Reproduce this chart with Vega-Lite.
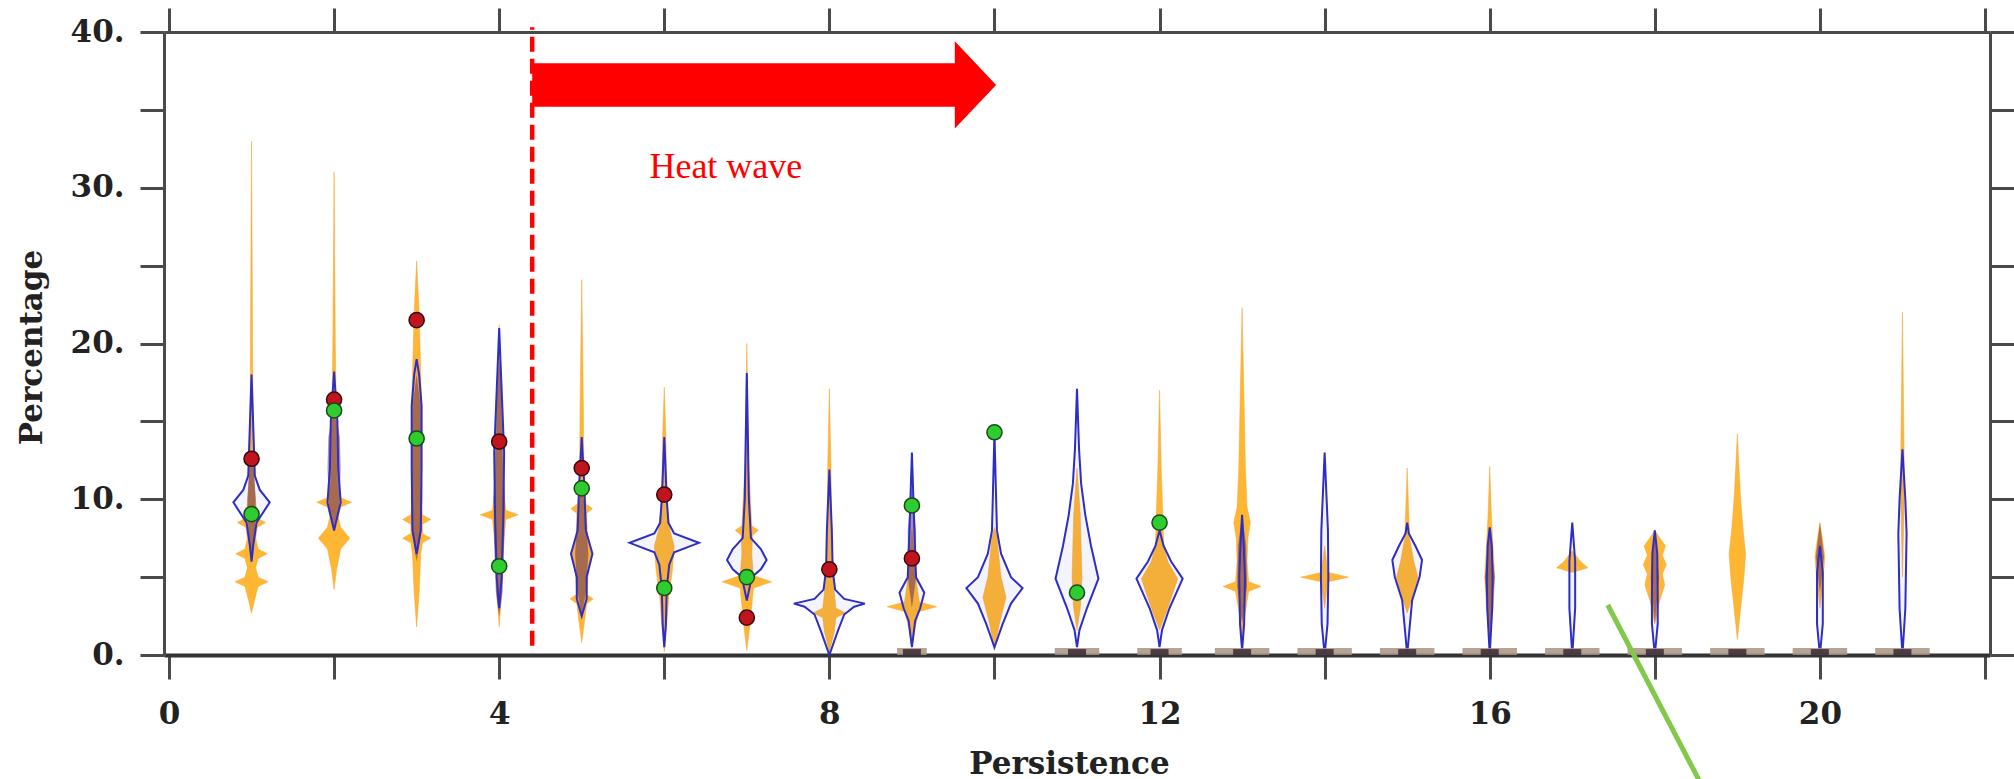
{
  "$schema": "https://vega.github.io/schema/vega-lite/v6.json",
  "width": 1826,
  "height": 623,
  "autosize": {"type": "none"},
  "padding": {"left": 164, "top": 32, "right": 24, "bottom": 124},
  "background": "#ffffff",
  "config": {
    "view": {"stroke": null, "fill": "#ffffff"},
    "axis": {
      "grid": false,
      "labelFont": "DejaVu Serif",
      "labelFontWeight": "bold",
      "labelFontSize": 31,
      "labelColor": "#222222",
      "titleFont": "DejaVu Serif",
      "titleFontWeight": "bold",
      "titleFontSize": 31,
      "titleColor": "#222222",
      "tickColor": "#4a4a4a",
      "tickWidth": 3,
      "tickSize": 24,
      "domainColor": "#4a4a4a",
      "domainWidth": 3,
      "labelFlush": false,
      "labelOverlap": false
    }
  },
  "datasets": {
    "orange": [
      {"p":1,"v":2.7,"lo":1,"hi":1},{"p":1,"v":3.6,"lo":0.96,"hi":1.04},{"p":1,"v":4.4,"lo":0.92,"hi":1.08},{"p":1,"v":4.7,"lo":0.8,"hi":1.2},{"p":1,"v":5.0,"lo":0.92,"hi":1.08},{"p":1,"v":5.6,"lo":0.95,"hi":1.05},{"p":1,"v":6.2,"lo":0.92,"hi":1.08},{"p":1,"v":6.5,"lo":0.81,"hi":1.19},{"p":1,"v":6.8,"lo":0.92,"hi":1.08},{"p":1,"v":7.5,"lo":0.95,"hi":1.05},{"p":1,"v":8.2,"lo":0.93,"hi":1.07},{"p":1,"v":8.5,"lo":0.83,"hi":1.17},{"p":1,"v":8.8,"lo":0.93,"hi":1.07},{"p":1,"v":9.8,"lo":0.95,"hi":1.05},{"p":1,"v":11,"lo":0.97,"hi":1.03},{"p":1,"v":14,"lo":0.98,"hi":1.02},{"p":1,"v":18,"lo":0.985,"hi":1.015},{"p":1,"v":33,"lo":1,"hi":1},
      {"p":2,"v":4.2,"lo":2,"hi":2},{"p":2,"v":5.5,"lo":1.97,"hi":2.03},{"p":2,"v":6.8,"lo":1.92,"hi":2.08},{"p":2,"v":7.5,"lo":1.81,"hi":2.19},{"p":2,"v":8.2,"lo":1.92,"hi":2.08},{"p":2,"v":8.9,"lo":1.95,"hi":2.05},{"p":2,"v":9.5,"lo":1.92,"hi":2.08},{"p":2,"v":9.8,"lo":1.79,"hi":2.21},{"p":2,"v":10.1,"lo":1.92,"hi":2.08},{"p":2,"v":11,"lo":1.96,"hi":2.04},{"p":2,"v":13,"lo":1.97,"hi":2.03},{"p":2,"v":16,"lo":1.975,"hi":2.025},{"p":2,"v":20,"lo":1.985,"hi":2.015},{"p":2,"v":31,"lo":2,"hi":2},
      {"p":3,"v":1.8,"lo":3,"hi":3},{"p":3,"v":4,"lo":2.97,"hi":3.03},{"p":3,"v":6.5,"lo":2.95,"hi":3.05},{"p":3,"v":7.2,"lo":2.93,"hi":3.07},{"p":3,"v":7.5,"lo":2.83,"hi":3.17},{"p":3,"v":7.8,"lo":2.93,"hi":3.07},{"p":3,"v":8.4,"lo":2.93,"hi":3.07},{"p":3,"v":8.7,"lo":2.83,"hi":3.17},{"p":3,"v":9.0,"lo":2.93,"hi":3.07},{"p":3,"v":10,"lo":2.95,"hi":3.05},{"p":3,"v":13,"lo":2.95,"hi":3.05},{"p":3,"v":16,"lo":2.94,"hi":3.06},{"p":3,"v":18,"lo":2.95,"hi":3.05},{"p":3,"v":22,"lo":2.97,"hi":3.03},{"p":3,"v":25.3,"lo":3,"hi":3},
      {"p":4,"v":1.8,"lo":4,"hi":4},{"p":4,"v":4,"lo":3.97,"hi":4.03},{"p":4,"v":7,"lo":3.95,"hi":4.05},{"p":4,"v":8.7,"lo":3.92,"hi":4.08},{"p":4,"v":9.0,"lo":3.77,"hi":4.23},{"p":4,"v":9.3,"lo":3.92,"hi":4.08},{"p":4,"v":11,"lo":3.95,"hi":4.05},{"p":4,"v":14,"lo":3.97,"hi":4.03},{"p":4,"v":18,"lo":3.985,"hi":4.015},{"p":4,"v":21.2,"lo":4,"hi":4},
      {"p":5,"v":0.8,"lo":5,"hi":5},{"p":5,"v":2,"lo":4.97,"hi":5.03},{"p":5,"v":3.3,"lo":4.94,"hi":5.06},{"p":5,"v":3.6,"lo":4.86,"hi":5.14},{"p":5,"v":3.9,"lo":4.94,"hi":5.06},{"p":5,"v":5.5,"lo":4.92,"hi":5.08},{"p":5,"v":6.5,"lo":4.88,"hi":5.12},{"p":5,"v":7.5,"lo":4.93,"hi":5.07},{"p":5,"v":9.1,"lo":4.94,"hi":5.06},{"p":5,"v":9.4,"lo":4.87,"hi":5.13},{"p":5,"v":9.7,"lo":4.95,"hi":5.05},{"p":5,"v":12,"lo":4.975,"hi":5.025},{"p":5,"v":16,"lo":4.98,"hi":5.02},{"p":5,"v":24.1,"lo":5,"hi":5},
      {"p":6,"v":0.2,"lo":6,"hi":6},{"p":6,"v":2,"lo":5.97,"hi":6.03},{"p":6,"v":4,"lo":5.94,"hi":6.06},{"p":6,"v":5.5,"lo":5.9,"hi":6.1},{"p":6,"v":7,"lo":5.88,"hi":6.12},{"p":6,"v":8,"lo":5.93,"hi":6.07},{"p":6,"v":9,"lo":5.95,"hi":6.05},{"p":6,"v":10.5,"lo":5.97,"hi":6.03},{"p":6,"v":14,"lo":5.98,"hi":6.02},{"p":6,"v":17.2,"lo":6,"hi":6},
      {"p":7,"v":0.3,"lo":7,"hi":7},{"p":7,"v":2,"lo":6.96,"hi":7.04},{"p":7,"v":4.3,"lo":6.92,"hi":7.08},{"p":7,"v":4.7,"lo":6.7,"hi":7.3},{"p":7,"v":5.1,"lo":6.92,"hi":7.08},{"p":7,"v":6.5,"lo":6.94,"hi":7.06},{"p":7,"v":7.7,"lo":6.93,"hi":7.07},{"p":7,"v":8.0,"lo":6.86,"hi":7.14},{"p":7,"v":8.3,"lo":6.94,"hi":7.06},{"p":7,"v":12,"lo":6.975,"hi":7.025},{"p":7,"v":20,"lo":7,"hi":7},
      {"p":8,"v":0.2,"lo":8,"hi":8},{"p":8,"v":1.5,"lo":7.94,"hi":8.06},{"p":8,"v":2.4,"lo":7.92,"hi":8.08},{"p":8,"v":2.7,"lo":7.8,"hi":8.2},{"p":8,"v":3.0,"lo":7.92,"hi":8.08},{"p":8,"v":4.5,"lo":7.95,"hi":8.05},{"p":8,"v":6,"lo":7.97,"hi":8.03},{"p":8,"v":12,"lo":7.98,"hi":8.02},{"p":8,"v":17.1,"lo":8,"hi":8},
      {"p":9,"v":0.5,"lo":9,"hi":9},{"p":9,"v":2,"lo":8.95,"hi":9.05},{"p":9,"v":2.8,"lo":8.91,"hi":9.09},{"p":9,"v":3.1,"lo":8.7,"hi":9.3},{"p":9,"v":3.4,"lo":8.91,"hi":9.09},{"p":9,"v":4.5,"lo":8.94,"hi":9.06},{"p":9,"v":6,"lo":8.97,"hi":9.03},{"p":9,"v":8,"lo":9,"hi":9},
      {"p":10,"v":0.3,"lo":10,"hi":10},{"p":10,"v":2,"lo":9.94,"hi":10.06},{"p":10,"v":3.7,"lo":9.86,"hi":10.14},{"p":10,"v":5,"lo":9.92,"hi":10.08},{"p":10,"v":6.5,"lo":9.95,"hi":10.05},{"p":10,"v":7.6,"lo":9.97,"hi":10.03},{"p":10,"v":8.2,"lo":10,"hi":10},
      {"p":11,"v":1.6,"lo":11,"hi":11},{"p":11,"v":3,"lo":10.96,"hi":11.04},{"p":11,"v":5,"lo":10.94,"hi":11.06},{"p":11,"v":7,"lo":10.95,"hi":11.05},{"p":11,"v":9,"lo":10.96,"hi":11.04},{"p":11,"v":10.6,"lo":10.98,"hi":11.02},{"p":11,"v":12,"lo":11,"hi":11},
      {"p":12,"v":1.6,"lo":12,"hi":12},{"p":12,"v":3,"lo":11.9,"hi":12.1},{"p":12,"v":4.9,"lo":11.78,"hi":12.22},{"p":12,"v":6,"lo":11.9,"hi":12.1},{"p":12,"v":7,"lo":11.95,"hi":12.05},{"p":12,"v":9,"lo":11.96,"hi":12.04},{"p":12,"v":12,"lo":11.98,"hi":12.02},{"p":12,"v":17,"lo":12,"hi":12},
      {"p":13,"v":0.5,"lo":13,"hi":13},{"p":13,"v":2.5,"lo":12.97,"hi":13.03},{"p":13,"v":4.1,"lo":12.92,"hi":13.08},{"p":13,"v":4.4,"lo":12.77,"hi":13.23},{"p":13,"v":4.7,"lo":12.92,"hi":13.08},{"p":13,"v":6,"lo":12.94,"hi":13.06},{"p":13,"v":7.5,"lo":12.93,"hi":13.07},{"p":13,"v":8.5,"lo":12.9,"hi":13.1},{"p":13,"v":9.5,"lo":12.94,"hi":13.06},{"p":13,"v":12,"lo":12.96,"hi":13.04},{"p":13,"v":16,"lo":12.975,"hi":13.025},{"p":13,"v":22.3,"lo":13,"hi":13},
      {"p":14,"v":3,"lo":14,"hi":14},{"p":14,"v":4.7,"lo":13.96,"hi":14.04},{"p":14,"v":5.0,"lo":13.71,"hi":14.29},{"p":14,"v":5.3,"lo":13.96,"hi":14.04},{"p":14,"v":7,"lo":14,"hi":14},
      {"p":15,"v":2.7,"lo":15,"hi":15},{"p":15,"v":4,"lo":14.92,"hi":15.08},{"p":15,"v":5.0,"lo":14.87,"hi":15.13},{"p":15,"v":6,"lo":14.92,"hi":15.08},{"p":15,"v":7.5,"lo":14.97,"hi":15.03},{"p":15,"v":9,"lo":14.98,"hi":15.02},{"p":15,"v":12,"lo":15,"hi":15},
      {"p":16,"v":1,"lo":16,"hi":16},{"p":16,"v":3,"lo":15.96,"hi":16.04},{"p":16,"v":5,"lo":15.94,"hi":16.06},{"p":16,"v":7,"lo":15.96,"hi":16.04},{"p":16,"v":9,"lo":15.98,"hi":16.02},{"p":16,"v":12.1,"lo":16,"hi":16},
      {"p":17,"v":5.3,"lo":17,"hi":17},{"p":17,"v":5.6,"lo":16.81,"hi":17.19},{"p":17,"v":6,"lo":16.9,"hi":17.1},{"p":17,"v":6.7,"lo":17,"hi":17},
      {"p":18,"v":2,"lo":18,"hi":18},{"p":18,"v":3.5,"lo":17.94,"hi":18.06},{"p":18,"v":4.5,"lo":17.88,"hi":18.12},{"p":18,"v":5.2,"lo":17.91,"hi":18.09},{"p":18,"v":5.8,"lo":17.86,"hi":18.14},{"p":18,"v":6.4,"lo":17.91,"hi":18.09},{"p":18,"v":7,"lo":17.87,"hi":18.13},{"p":18,"v":7.6,"lo":17.95,"hi":18.05},{"p":18,"v":8,"lo":18,"hi":18},
      {"p":19,"v":1,"lo":19,"hi":19},{"p":19,"v":3,"lo":18.96,"hi":19.04},{"p":19,"v":5,"lo":18.92,"hi":19.08},{"p":19,"v":6.5,"lo":18.9,"hi":19.1},{"p":19,"v":8,"lo":18.93,"hi":19.07},{"p":19,"v":10,"lo":18.96,"hi":19.04},{"p":19,"v":12,"lo":18.98,"hi":19.02},{"p":19,"v":14.2,"lo":19,"hi":19},
      {"p":20,"v":3,"lo":20,"hi":20},{"p":20,"v":5,"lo":19.96,"hi":20.04},{"p":20,"v":6.3,"lo":19.94,"hi":20.06},{"p":20,"v":7.5,"lo":19.97,"hi":20.03},{"p":20,"v":8.5,"lo":20,"hi":20},
      {"p":21,"v":5,"lo":21,"hi":21},{"p":21,"v":10,"lo":20.98,"hi":21.02},{"p":21,"v":13,"lo":20.98,"hi":21.02},{"p":21,"v":22,"lo":21,"hi":21}
    ],
    "blue": [
      {"p":1,"v":6.0,"lo":1,"hi":1},{"p":1,"v":7,"lo":0.98,"hi":1.02},{"p":1,"v":8.5,"lo":0.94,"hi":1.06},{"p":1,"v":9.8,"lo":0.78,"hi":1.22},{"p":1,"v":10.6,"lo":0.9,"hi":1.1},{"p":1,"v":11.5,"lo":0.96,"hi":1.04},{"p":1,"v":14,"lo":0.975,"hi":1.025},{"p":1,"v":18,"lo":1,"hi":1},
      {"p":2,"v":8.0,"lo":2,"hi":2},{"p":2,"v":9.8,"lo":1.92,"hi":2.08},{"p":2,"v":12,"lo":1.95,"hi":2.05},{"p":2,"v":15,"lo":1.96,"hi":2.04},{"p":2,"v":18.2,"lo":2,"hi":2},
      {"p":3,"v":6.5,"lo":3,"hi":3},{"p":3,"v":8,"lo":2.95,"hi":3.05},{"p":3,"v":12,"lo":2.94,"hi":3.06},{"p":3,"v":16,"lo":2.94,"hi":3.06},{"p":3,"v":18,"lo":2.97,"hi":3.03},{"p":3,"v":19,"lo":3,"hi":3},
      {"p":4,"v":3,"lo":4,"hi":4},{"p":4,"v":5,"lo":3.97,"hi":4.03},{"p":4,"v":9,"lo":3.95,"hi":4.05},{"p":4,"v":13,"lo":3.94,"hi":4.06},{"p":4,"v":17,"lo":3.97,"hi":4.03},{"p":4,"v":21,"lo":4,"hi":4},
      {"p":5,"v":2.5,"lo":5,"hi":5},{"p":5,"v":3.6,"lo":4.94,"hi":5.06},{"p":5,"v":5,"lo":4.94,"hi":5.06},{"p":5,"v":6.5,"lo":4.87,"hi":5.13},{"p":5,"v":8,"lo":4.95,"hi":5.05},{"p":5,"v":11,"lo":4.97,"hi":5.03},{"p":5,"v":14,"lo":5,"hi":5},
      {"p":6,"v":0.5,"lo":6,"hi":6},{"p":6,"v":2,"lo":5.98,"hi":6.02},{"p":6,"v":4.3,"lo":5.97,"hi":6.03},{"p":6,"v":5.8,"lo":5.94,"hi":6.06},{"p":6,"v":6.6,"lo":5.88,"hi":6.12},{"p":6,"v":7.2,"lo":5.58,"hi":6.42},{"p":6,"v":7.8,"lo":5.88,"hi":6.12},{"p":6,"v":8.5,"lo":5.95,"hi":6.05},{"p":6,"v":10,"lo":5.97,"hi":6.03},{"p":6,"v":14,"lo":6,"hi":6},
      {"p":7,"v":3.5,"lo":7,"hi":7},{"p":7,"v":5.0,"lo":6.94,"hi":7.06},{"p":7,"v":5.5,"lo":6.83,"hi":7.17},{"p":7,"v":6.1,"lo":6.76,"hi":7.24},{"p":7,"v":6.8,"lo":6.83,"hi":7.17},{"p":7,"v":7.5,"lo":6.95,"hi":7.05},{"p":7,"v":10,"lo":6.975,"hi":7.025},{"p":7,"v":18.1,"lo":7,"hi":7},
      {"p":8,"v":0,"lo":8,"hi":8},{"p":8,"v":1.5,"lo":7.9,"hi":8.1},{"p":8,"v":2.6,"lo":7.82,"hi":8.18},{"p":8,"v":3.1,"lo":7.7,"hi":8.3},{"p":8,"v":3.3,"lo":7.57,"hi":8.43},{"p":8,"v":3.6,"lo":7.82,"hi":8.18},{"p":8,"v":4.2,"lo":7.93,"hi":8.07},{"p":8,"v":5.5,"lo":7.96,"hi":8.04},{"p":8,"v":8,"lo":7.97,"hi":8.03},{"p":8,"v":11.9,"lo":8,"hi":8},
      {"p":9,"v":0.5,"lo":9,"hi":9},{"p":9,"v":2.2,"lo":8.96,"hi":9.04},{"p":9,"v":3,"lo":8.9,"hi":9.1},{"p":9,"v":4,"lo":8.85,"hi":9.15},{"p":9,"v":5,"lo":8.95,"hi":9.05},{"p":9,"v":8,"lo":8.97,"hi":9.03},{"p":9,"v":13,"lo":9,"hi":9},
      {"p":10,"v":0.5,"lo":10,"hi":10},{"p":10,"v":2,"lo":9.9,"hi":10.1},{"p":10,"v":3.3,"lo":9.8,"hi":10.2},{"p":10,"v":4.3,"lo":9.66,"hi":10.34},{"p":10,"v":5,"lo":9.8,"hi":10.2},{"p":10,"v":6.5,"lo":9.92,"hi":10.08},{"p":10,"v":8,"lo":9.97,"hi":10.03},{"p":10,"v":14.3,"lo":10,"hi":10},
      {"p":11,"v":0.5,"lo":11,"hi":11},{"p":11,"v":1.6,"lo":10.97,"hi":11.03},{"p":11,"v":3,"lo":10.88,"hi":11.12},{"p":11,"v":4.9,"lo":10.74,"hi":11.26},{"p":11,"v":7,"lo":10.83,"hi":11.17},{"p":11,"v":9,"lo":10.9,"hi":11.1},{"p":11,"v":11,"lo":10.95,"hi":11.05},{"p":11,"v":13.2,"lo":10.975,"hi":11.025},{"p":11,"v":17.1,"lo":11,"hi":11},
      {"p":12,"v":0.5,"lo":12,"hi":12},{"p":12,"v":1.6,"lo":11.97,"hi":12.03},{"p":12,"v":3,"lo":11.88,"hi":12.12},{"p":12,"v":4.9,"lo":11.72,"hi":12.28},{"p":12,"v":6,"lo":11.86,"hi":12.14},{"p":12,"v":7,"lo":11.95,"hi":12.05},{"p":12,"v":8,"lo":12,"hi":12},
      {"p":13,"v":0.3,"lo":13,"hi":13},{"p":13,"v":2,"lo":12.975,"hi":13.025},{"p":13,"v":5,"lo":12.965,"hi":13.035},{"p":13,"v":7,"lo":12.98,"hi":13.02},{"p":13,"v":9,"lo":13,"hi":13},
      {"p":14,"v":0,"lo":14,"hi":14},{"p":14,"v":2,"lo":13.965,"hi":14.035},{"p":14,"v":5,"lo":13.955,"hi":14.045},{"p":14,"v":8,"lo":13.96,"hi":14.04},{"p":14,"v":13,"lo":14,"hi":14},
      {"p":15,"v":0,"lo":15,"hi":15},{"p":15,"v":1.5,"lo":14.975,"hi":15.025},{"p":15,"v":3.5,"lo":14.94,"hi":15.06},{"p":15,"v":5,"lo":14.85,"hi":15.15},{"p":15,"v":6.1,"lo":14.82,"hi":15.18},{"p":15,"v":7,"lo":14.9,"hi":15.1},{"p":15,"v":7.8,"lo":14.98,"hi":15.02},{"p":15,"v":8.5,"lo":15,"hi":15},
      {"p":16,"v":0,"lo":16,"hi":16},{"p":16,"v":3,"lo":15.97,"hi":16.03},{"p":16,"v":5,"lo":15.965,"hi":16.035},{"p":16,"v":7,"lo":15.975,"hi":16.025},{"p":16,"v":8.2,"lo":16,"hi":16},
      {"p":17,"v":0,"lo":17,"hi":17},{"p":17,"v":3,"lo":16.965,"hi":17.035},{"p":17,"v":6,"lo":16.965,"hi":17.035},{"p":17,"v":8.5,"lo":17,"hi":17},
      {"p":18,"v":0,"lo":18,"hi":18},{"p":18,"v":2,"lo":17.965,"hi":18.035},{"p":18,"v":4,"lo":17.965,"hi":18.035},{"p":18,"v":6.5,"lo":17.97,"hi":18.03},{"p":18,"v":8,"lo":18,"hi":18},
      {"p":20,"v":0,"lo":20,"hi":20},{"p":20,"v":2,"lo":19.965,"hi":20.035},{"p":20,"v":5.3,"lo":19.965,"hi":20.035},{"p":20,"v":7,"lo":20,"hi":20},
      {"p":21,"v":0,"lo":21,"hi":21},{"p":21,"v":3,"lo":20.965,"hi":21.035},{"p":21,"v":7.8,"lo":20.95,"hi":21.05},{"p":21,"v":10,"lo":20.965,"hi":21.035},{"p":21,"v":13.2,"lo":21,"hi":21}
    ],
    "dark": [
      {"p":1,"v":6,"lo":1,"hi":1},{"p":1,"v":8,"lo":0.96,"hi":1.04},{"p":1,"v":10,"lo":0.95,"hi":1.05},{"p":1,"v":12,"lo":0.97,"hi":1.03},{"p":1,"v":13,"lo":1,"hi":1},
      {"p":2,"v":8,"lo":2,"hi":2},{"p":2,"v":9.5,"lo":1.94,"hi":2.06},{"p":2,"v":12,"lo":1.92,"hi":2.08},{"p":2,"v":14,"lo":1.93,"hi":2.07},{"p":2,"v":16,"lo":2,"hi":2},
      {"p":3,"v":6,"lo":3,"hi":3},{"p":3,"v":8,"lo":2.94,"hi":3.06},{"p":3,"v":10,"lo":2.93,"hi":3.07},{"p":3,"v":13,"lo":2.94,"hi":3.06},{"p":3,"v":16,"lo":2.95,"hi":3.05},{"p":3,"v":18,"lo":3,"hi":3},
      {"p":4,"v":2.5,"lo":4,"hi":4},{"p":4,"v":4,"lo":3.96,"hi":4.04},{"p":4,"v":7,"lo":3.94,"hi":4.06},{"p":4,"v":10,"lo":3.93,"hi":4.07},{"p":4,"v":13,"lo":3.95,"hi":4.05},{"p":4,"v":16,"lo":3.96,"hi":4.04},{"p":4,"v":19,"lo":4,"hi":4},
      {"p":5,"v":2.5,"lo":5,"hi":5},{"p":5,"v":4,"lo":4.95,"hi":5.05},{"p":5,"v":6.5,"lo":4.92,"hi":5.08},{"p":5,"v":9,"lo":4.95,"hi":5.05},{"p":5,"v":11,"lo":5,"hi":5},
      {"p":9,"v":3,"lo":9,"hi":9},{"p":9,"v":5,"lo":8.95,"hi":9.05},{"p":9,"v":8,"lo":8.95,"hi":9.05},{"p":9,"v":11,"lo":9,"hi":9},
      {"p":13,"v":2,"lo":13,"hi":13},{"p":13,"v":4.4,"lo":12.94,"hi":13.06},{"p":13,"v":7,"lo":12.95,"hi":13.05},{"p":13,"v":9,"lo":13,"hi":13},
      {"p":16,"v":1,"lo":16,"hi":16},{"p":16,"v":5,"lo":15.94,"hi":16.06},{"p":16,"v":8.2,"lo":16,"hi":16},
      {"p":18,"v":2,"lo":18,"hi":18},{"p":18,"v":5,"lo":17.95,"hi":18.05},{"p":18,"v":8,"lo":18,"hi":18},
      {"p":20,"v":4,"lo":20,"hi":20},{"p":20,"v":6.3,"lo":19.95,"hi":20.05},{"p":20,"v":8.5,"lo":20,"hi":20}
    ],
    "zeros": [
      {"p":9,"lo":8.82,"hi":9.18},{"p":11,"lo":10.73,"hi":11.27},{"p":12,"lo":11.73,"hi":12.27},
      {"p":13,"lo":12.67,"hi":13.33},{"p":14,"lo":13.67,"hi":14.33},{"p":15,"lo":14.67,"hi":15.33},
      {"p":16,"lo":15.67,"hi":16.33},{"p":17,"lo":16.67,"hi":17.33},{"p":18,"lo":17.67,"hi":18.33},
      {"p":19,"lo":18.67,"hi":19.33},{"p":20,"lo":19.67,"hi":20.33},{"p":21,"lo":20.67,"hi":21.33}
    ],
    "dots": [
      {"p":1,"v":12.6,"kind":"red"},{"p":2,"v":16.4,"kind":"red"},{"p":3,"v":21.5,"kind":"red"},
      {"p":4,"v":13.7,"kind":"red"},{"p":5,"v":12.0,"kind":"red"},{"p":6,"v":10.3,"kind":"red"},
      {"p":7,"v":2.4,"kind":"red"},{"p":8,"v":5.5,"kind":"red"},{"p":9,"v":6.2,"kind":"red"},
      {"p":1,"v":9.05,"kind":"green"},{"p":2,"v":15.7,"kind":"green"},{"p":3,"v":13.9,"kind":"green"},
      {"p":4,"v":5.7,"kind":"green"},{"p":5,"v":10.7,"kind":"green"},{"p":6,"v":4.3,"kind":"green"},
      {"p":7,"v":5.0,"kind":"green"},{"p":9,"v":9.6,"kind":"green"},{"p":10,"v":14.3,"kind":"green"},
      {"p":11,"v":4.0,"kind":"green"},{"p":12,"v":8.5,"kind":"green"}
    ],
    "one": [{}]
  },
  "layer": [
    {
      "data": {"name": "orange"},
      "mark": {"type": "area", "orient": "horizontal", "fill": "#ffa500", "fillOpacity": 0.8, "stroke": "#f5a030", "strokeWidth": 0.8, "strokeOpacity": 0.6},
      "encoding": {
        "y": {"field": "v", "type": "quantitative",
          "scale": {"domain": [0, 40], "nice": false, "zero": false},
          "axis": {"orient": "left", "values": [0,5,10,15,20,25,30,35,40],
            "labelExpr": "datum.value % 10 === 0 ? datum.value + '.' : ''",
            "labelPadding": 16, "title": "Percentage", "titleX": -132, "titleY": 315,
            "titleAngle": 270, "titleAlign": "center", "titleBaseline": "middle"}},
        "x": {"field": "lo", "type": "quantitative",
          "scale": {"domain": [0, 22], "nice": false, "zero": false},
          "axis": {"orient": "bottom", "values": [0,2,4,6,8,10,12,14,16,18,20,22],
            "labelExpr": "datum.value % 4 === 0 && datum.value <= 20 ? datum.label : ''",
            "labelPadding": 20, "domainWidth": 4, "domainColor": "#333333",
            "title": "Persistence", "titleX": 905, "titleY": 118,
            "titleAlign": "center", "titleBaseline": "alphabetic"}},
        "x2": {"field": "hi"},
        "detail": {"field": "p"}
      }
    },
    {
      "data": {"name": "dark"},
      "mark": {"type": "area", "orient": "horizontal", "fill": "#5c2860", "fillOpacity": 0.5},
      "encoding": {
        "y": {"field": "v", "type": "quantitative", "scale": {"domain": [0, 40], "nice": false, "zero": false}, "axis": null},
        "x": {"field": "lo", "type": "quantitative", "scale": {"domain": [0, 22], "nice": false, "zero": false}, "axis": null},
        "x2": {"field": "hi"},
        "detail": {"field": "p"}
      }
    },
    {
      "data": {"name": "blue"},
      "mark": {"type": "area", "orient": "horizontal", "fill": "#2d2dc8", "fillOpacity": 0.05, "stroke": "#2d2dc8", "strokeWidth": 2},
      "encoding": {
        "y": {"field": "v", "type": "quantitative",
          "scale": {"domain": [0, 40], "nice": false, "zero": false},
          "axis": {"orient": "right", "values": [0,5,10,15,20,25,30,35,40], "labels": false, "title": null}},
        "x": {"field": "lo", "type": "quantitative",
          "scale": {"domain": [0, 22], "nice": false, "zero": false},
          "axis": {"orient": "top", "values": [0,2,4,6,8,10,12,14,16,18,20,22], "labels": false, "title": null}},
        "x2": {"field": "hi"},
        "detail": {"field": "p"}
      }
    },
    {
      "data": {"name": "zeros"},
      "mark": {"type": "rect", "fill": "#a89484", "fillOpacity": 0.85},
      "encoding": {
        "x": {"field": "lo", "type": "quantitative", "scale": {"domain": [0, 22], "nice": false, "zero": false}, "axis": null},
        "x2": {"field": "hi"},
        "y": {"datum": 0, "type": "quantitative", "scale": {"domain": [0, 40], "nice": false, "zero": false}, "axis": null},
        "y2": {"datum": 0.45}
      }
    },
    {
      "data": {"name": "zeros"},
      "mark": {"type": "bar", "width": 18, "fill": "#3b2b35", "fillOpacity": 0.85},
      "encoding": {
        "x": {"field": "p", "type": "quantitative", "scale": {"domain": [0, 22], "nice": false, "zero": false}, "axis": null},
        "y": {"datum": 0, "type": "quantitative", "scale": {"domain": [0, 40], "nice": false, "zero": false}, "axis": null},
        "y2": {"datum": 0.38}
      }
    },
    {
      "data": {"name": "dots"},
      "transform": [{"filter": "datum.kind === 'red'"}],
      "mark": {"type": "circle", "size": 230, "fill": "#c0141e", "fillOpacity": 1, "stroke": "#3a0a0a", "strokeWidth": 1.5},
      "encoding": {
        "x": {"field": "p", "type": "quantitative", "scale": {"domain": [0, 22], "nice": false, "zero": false}, "axis": null},
        "y": {"field": "v", "type": "quantitative", "scale": {"domain": [0, 40], "nice": false, "zero": false}, "axis": null}
      }
    },
    {
      "data": {"name": "dots"},
      "transform": [{"filter": "datum.kind === 'green'"}],
      "mark": {"type": "circle", "size": 230, "fill": "#2ecc2e", "fillOpacity": 1, "stroke": "#1a4a1a", "strokeWidth": 1.5},
      "encoding": {
        "x": {"field": "p", "type": "quantitative", "scale": {"domain": [0, 22], "nice": false, "zero": false}, "axis": null},
        "y": {"field": "v", "type": "quantitative", "scale": {"domain": [0, 40], "nice": false, "zero": false}, "axis": null}
      }
    },
    {
      "data": {"name": "one"},
      "mark": {"type": "rule", "color": "#ff0000", "strokeWidth": 4.5, "strokeDash": [15, 7]},
      "encoding": {
        "x": {"datum": 4.4, "type": "quantitative", "scale": {"domain": [0, 22], "nice": false, "zero": false}, "axis": null},
        "y": {"datum": 0.6, "type": "quantitative", "scale": {"domain": [0, 40], "nice": false, "zero": false}, "axis": null},
        "y2": {"datum": 40.3}
      }
    },
    {
      "data": {"name": "one"},
      "mark": {"type": "rect", "fill": "#ff0000"},
      "encoding": {
        "x": {"datum": 4.4, "type": "quantitative", "scale": {"domain": [0, 22], "nice": false, "zero": false}, "axis": null},
        "x2": {"datum": 9.53},
        "y": {"datum": 35.2, "type": "quantitative", "scale": {"domain": [0, 40], "nice": false, "zero": false}, "axis": null},
        "y2": {"datum": 38.0}
      }
    },
    {
      "data": {"values": [{"x": 9.52, "bottom": 33.8, "top": 39.4}, {"x": 10.02, "bottom": 36.6, "top": 36.6}]},
      "mark": {"type": "area", "fill": "#ff0000"},
      "encoding": {
        "x": {"field": "x", "type": "quantitative", "scale": {"domain": [0, 22], "nice": false, "zero": false}, "axis": null},
        "y": {"field": "bottom", "type": "quantitative", "scale": {"domain": [0, 40], "nice": false, "zero": false}, "axis": null},
        "y2": {"field": "top"}
      }
    },
    {
      "data": {"name": "one"},
      "mark": {"type": "text", "text": "Heat wave", "font": "Liberation Serif", "fontSize": 36, "color": "#ff0000", "align": "left", "baseline": "alphabetic"},
      "encoding": {
        "x": {"datum": 5.82, "type": "quantitative", "scale": {"domain": [0, 22], "nice": false, "zero": false}, "axis": null},
        "y": {"datum": 30.6, "type": "quantitative", "scale": {"domain": [0, 40], "nice": false, "zero": false}, "axis": null}
      }
    },
    {
      "data": {"name": "one"},
      "mark": {"type": "rule", "color": "#82c84a", "strokeWidth": 5, "clip": false},
      "encoding": {
        "x": {"datum": 17.43, "type": "quantitative", "scale": {"domain": [0, 22], "nice": false, "zero": false}, "axis": null},
        "y": {"datum": 3.21, "type": "quantitative", "scale": {"domain": [0, 40], "nice": false, "zero": false}, "axis": null},
        "x2": {"datum": 18.65},
        "y2": {"datum": -9.2}
      }
    }
  ],
  "resolve": {"axis": {"x": "independent", "y": "independent"}}
}
